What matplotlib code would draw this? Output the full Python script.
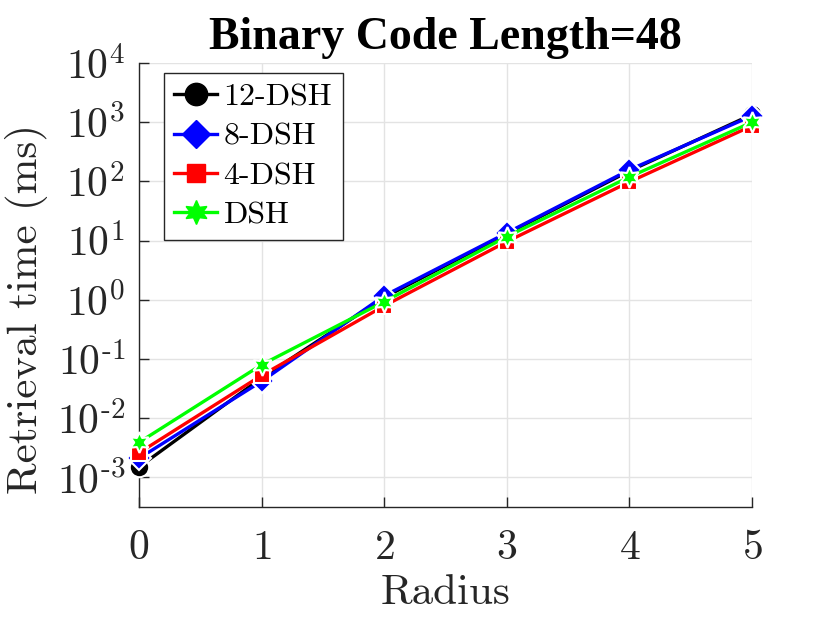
import matplotlib
matplotlib.use("Agg")
import matplotlib.pyplot as plt
from matplotlib.lines import Line2D

plt.rcParams['font.family'] = ['cmr10']
plt.rcParams['mathtext.fontset'] = 'cm'
plt.rcParams['axes.formatter.use_mathtext'] = True

radius = [0, 1, 2, 3, 4, 5]
series_names = ['12-DSH', '8-DSH', '4-DSH', 'DSH']
dsh12 = [0.0015, 0.048, 1.10, 13.0, 150, 1350]
dsh8 = [0.0021, 0.042, 1.17, 13.5, 157, 1280]
dsh4 = [0.0026, 0.053, 0.79, 9.6, 98, 870]
dsh = [0.0039, 0.080, 0.93, 11.7, 119, 1000]
values = [dsh12, dsh8, dsh4, dsh]
ytick_vals = [1e-3, 1e-2, 1e-1, 1e0, 1e1, 1e2, 1e3, 1e4]
ytick_labels = [r'$10^{\text{-}3}$', r'$10^{\text{-}2}$', r'$10^{\text{-}1}$',
                r'$10^{0}$', r'$10^{1}$', r'$10^{2}$', r'$10^{3}$', r'$10^{4}$']
colors = ['black', 'blue', 'red', '#00ff00']
markers = ['o', 'D', 's', (6, 1, 0)]
msizes = [14, 12, 11, 15]

fig = plt.figure(figsize=(8.3, 6.23), dpi=100)
ax = fig.add_axes([0.1675, 0.1862, 0.7386, 0.7127])

for v, c, m, ms in zip(values, colors, markers, msizes):
    ax.plot(radius, v, color=c, lw=2.4, marker=m, ms=ms,
            markerfacecolor=c, markeredgecolor='white', markeredgewidth=1.5,
            clip_on=False, zorder=3)

ax.set_yscale('log')
ax.set_xlim(0, 5)
ax.set_ylim(10 ** -3.5, 1e4)
ax.set_yticks(ytick_vals)
ax.set_yticklabels(ytick_labels)
ax.minorticks_off()
ax.set_xticks(radius)

ax.grid(True, color='#e3e3e3', lw=1)
ax.set_axisbelow(True)
for s in ['top', 'right']:
    ax.spines[s].set_visible(False)
for s in ['left', 'bottom']:
    ax.spines[s].set_color('#262626')
    ax.spines[s].set_linewidth(1)
ax.tick_params(direction='in', length=7, width=1, color='#262626',
               labelsize=30, labelcolor='#262626')
ax.tick_params(axis='y', pad=10)
ax.tick_params(axis='x', pad=16)

ax.set_xlabel('Radius', fontsize=31, color='#262626', labelpad=6)
ax.set_ylabel('Retrieval time (ms)', fontsize=31, color='#262626')
ax.yaxis.set_label_coords(-0.148, 0.446)
ax.set_title('Binary Code Length=48', fontsize=33, fontweight='bold',
             family='Liberation Serif', pad=10)

handles = [Line2D([], [], color=c, lw=2.4, marker=m, ms=ms * 1.15,
                  markerfacecolor=c, markeredgecolor=c)
           for c, m, ms in zip(colors, markers, msizes)]
leg = ax.legend(handles, series_names, loc='upper left',
                bbox_to_anchor=(0.04, 0.978), borderaxespad=0,
                fontsize=23, fancybox=False, framealpha=1,
                edgecolor='#262626', handlelength=1.35, handletextpad=0.2,
                labelspacing=0.34, borderpad=0.33)
leg.get_frame().set_linewidth(1)

fig.savefig('out.png', dpi=100)
